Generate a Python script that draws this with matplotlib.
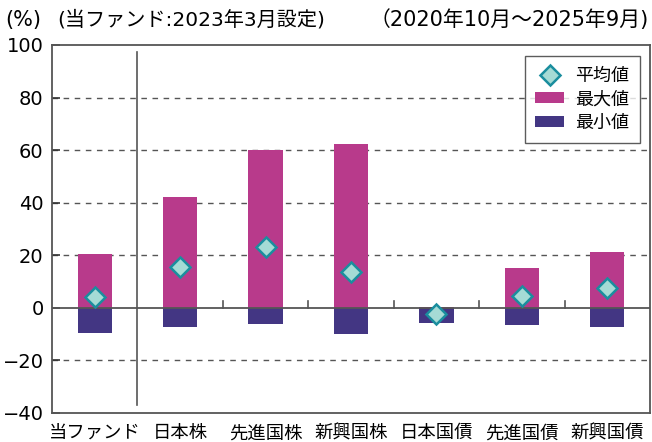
import matplotlib
matplotlib.use("Agg")
import matplotlib.pyplot as plt
from matplotlib.lines import Line2D
from matplotlib.patches import Patch

plt.rcParams['font.family'] = ['DejaVu Sans', 'Noto Sans CJK JP']

categories = ['当ファンド', '日本株', '先進国株', '新興国株', '日本国債', '先進国債', '新興国債']
max_vals = [20.5, 42.0, 60.0, 62.5, 0.5, 15.0, 21.3]
min_vals = [-9.6, -7.3, -6.0, -10.0, -5.6, -6.4, -7.3]
avg_vals = [4.3, 15.5, 23.2, 13.5, -2.3, 4.6, 7.5]
yticks = [-40, -20, 0, 20, 40, 60, 80, 100]

C_MAX = '#B83A8B'
C_MIN = '#433683'
C_AVG_FACE = '#A5DBD5'
C_AVG_EDGE = '#1A8E9E'
C_LINE = '#555555'

fig = plt.figure(figsize=(6.52, 4.42), dpi=100)
ax = fig.add_axes([52/652, 29/442, 598/652, 368/442])

x = list(range(len(categories)))
ax.bar(x, max_vals, width=0.4, color=C_MAX, zorder=2)
ax.bar(x, min_vals, width=0.4, color=C_MIN, zorder=2)
ax.plot(x, avg_vals, linestyle='none', marker='D', markersize=10.5,
        markerfacecolor=C_AVG_FACE, markeredgecolor=C_AVG_EDGE, markeredgewidth=1.8, zorder=4)

ax.set_xlim(-0.5, len(categories) - 0.5)
ax.set_ylim(-40, 100)
ax.set_yticks(yticks)
for t in yticks:
    if t in (-40, 0, 100):
        continue
    ax.axhline(t, color=C_LINE, linewidth=1.0, linestyle=(0, (4, 4)), zorder=1)
ax.axhline(0, color=C_LINE, linewidth=1.3, zorder=3)

# separator between fund and indices
ax.plot([0.5, 0.5], [-37, 97.3], color=C_LINE, linewidth=1.2, zorder=3)
# small ticks on zero line at category boundaries
for b in range(2, len(categories)):
    ax.plot([b - 0.5, b - 0.5], [0, 2.6], color=C_LINE, linewidth=1.2, zorder=3)

ax.set_xticks(x)
ax.set_xticklabels(categories, fontsize=13.2)
ax.tick_params(axis='x', length=0, pad=8)
ax.tick_params(axis='y', direction='in', length=6, width=1.2, color='#333333', labelsize=14, pad=6)
for s in ax.spines.values():
    s.set_color(C_LINE)
    s.set_linewidth(1.3)

handles = [
    Line2D([], [], linestyle='none', marker='D', markersize=10.5, markerfacecolor=C_AVG_FACE,
           markeredgecolor=C_AVG_EDGE, markeredgewidth=1.8, label='平均値'),
    Patch(facecolor=C_MAX, label='最大値'),
    Patch(facecolor=C_MIN, label='最小値'),
]
leg = ax.legend(handles=handles, loc='upper right', bbox_to_anchor=(588/598, 357/368),
                fontsize=13, frameon=True, fancybox=False, borderpad=0.6,
                handlelength=1.6, handleheight=0.55, handletextpad=0.6, labelspacing=0.3,
                borderaxespad=0)
leg.get_frame().set_edgecolor('#333333')
leg.get_frame().set_linewidth(1.0)

fig.text(5/652, 1 - 20/442, '(%)', fontsize=15, va='center', ha='left')
fig.text(57/652, 1 - 20/442, '(当ファンド:2023年3月設定)', fontsize=14.5, va='center', ha='left')
fig.text(649/652, 1 - 20/442, '（2020年10月～2025年9月)', fontsize=15, va='center', ha='right')

fig.savefig('out.png', dpi=100)
